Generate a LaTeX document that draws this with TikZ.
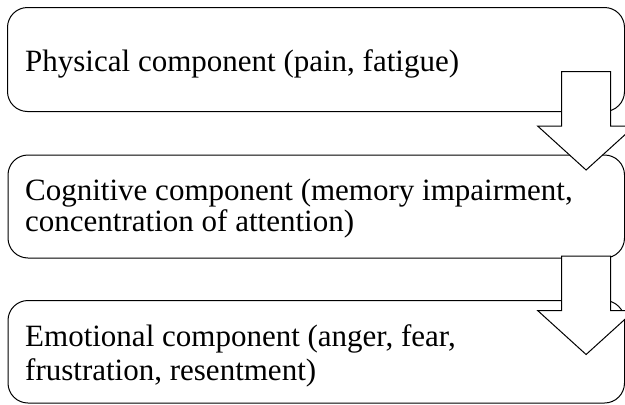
\documentclass[tikz,border=0pt]{standalone}
\usepackage{fontspec}
\setmainfont{Liberation Serif}
\begin{document}
\begin{tikzpicture}[x=1pt,y=-1pt,
  box/.style={draw=black,line width=1pt,rounded corners=20pt},
  label/.style={anchor=base west,inner sep=0pt,align=left,font=\fontsize{31}{31}\selectfont},
  arrowline/.style={draw=black,line width=1pt,fill=white,line join=miter},
  blockarrow/.pic={\path[arrowline] (-24.4,0) -- (24.4,0) -- (24.4,54.5) -- (48.5,54.5)
      -- (0,98.5) -- (-48.5,54.5) -- (-24.4,54.5) -- cycle;}]
\useasboundingbox[fill=white] (0,0) rectangle (625,405);
% boxes
\draw[box] (7.5,7.5) rectangle (624.5,111.5);
\draw[box] (8,155) rectangle (624.5,258);
\draw[box] (8,300.5) rectangle (624.5,403);
% texts (base anchor = baseline of the last line)
\node[label] (t1) at (25,71.7) {Physical component (pain, fatigue)};
\node[label] (t2) at (25,231.5) {Cognitive component (memory impairment,\\concentration of attention)};
\node[label,font=\fontsize{31}{34}\selectfont] (t3) at (25,380) {Emotional component (anger, fear,\\frustration, resentment)};
% block arrows
\pic at (586.1,71.5) {blockarrow};
\pic at (586.1,256) {blockarrow};
\end{tikzpicture}
\end{document}
